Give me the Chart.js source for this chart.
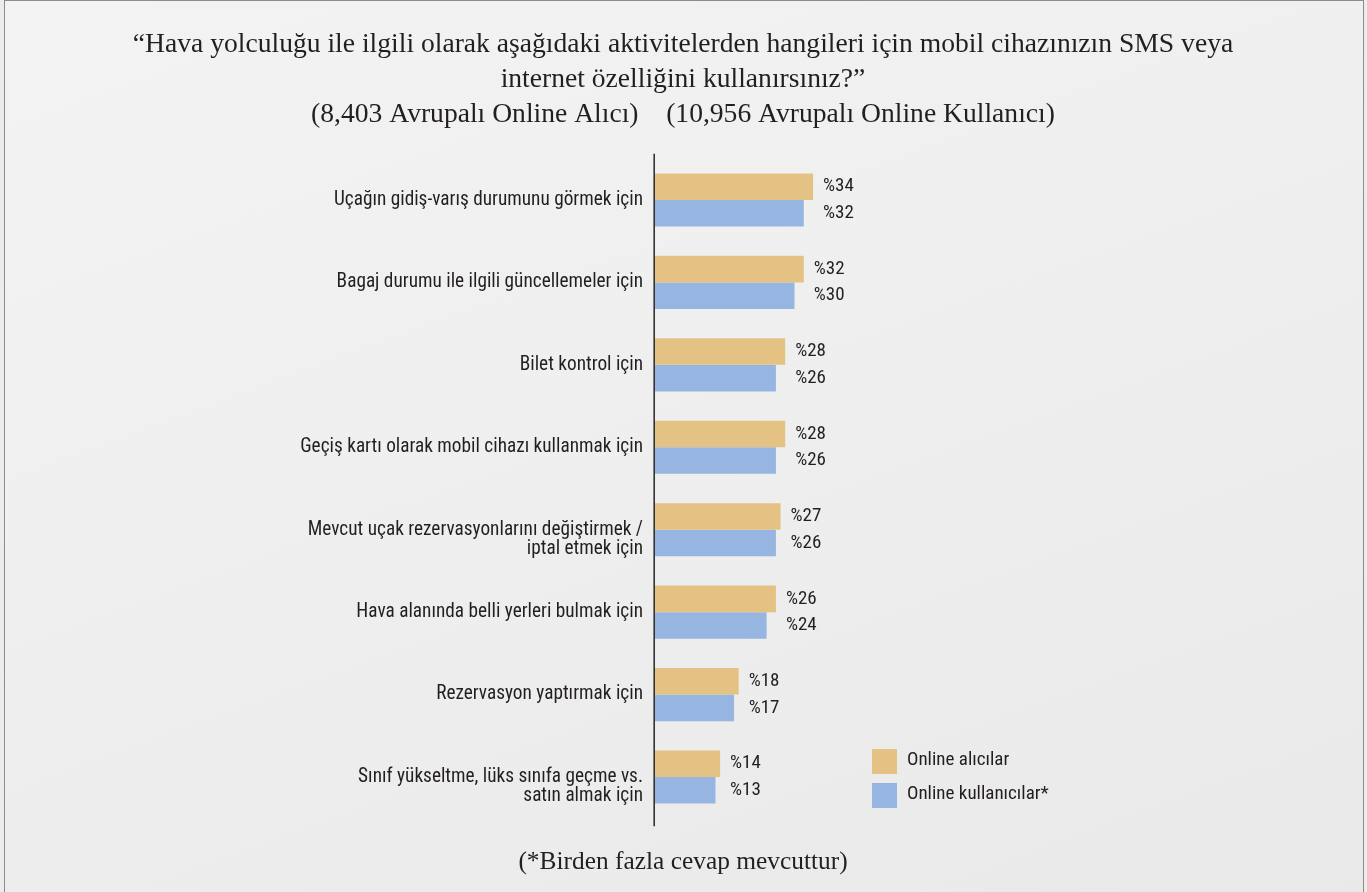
<!DOCTYPE html>
<html lang="tr">
<head>
<meta charset="utf-8">
<script src="https://cdn.jsdelivr.net/npm/chart.js@4/dist/chart.umd.min.js"></script>
<style>
  html, body { margin: 0; padding: 0; background: #ececec; }
  #frame {
    position: absolute; left: 4px; top: 0; width: 1360px; height: 900px;
    border: 1px solid #8c8c8c; box-sizing: border-box;
    background: linear-gradient(160deg, #f3f3f3 0%, #efefef 45%, #e9e9e9 100%);
  }
  #wrap { position: absolute; left: 0; top: 0; width: 1367px; height: 892px; }
</style>
</head>
<body>
<div id="frame"></div>
<div id="wrap"><canvas id="c" width="1367" height="892"></canvas></div>
<script>
const titleLines = [
  '\u201CHava yolculuğu ile ilgili olarak aşağıdaki aktivitelerden hangileri için mobil cihazınızın SMS veya',
  'internet özelliğini kullanırsınız?\u201D',
  '(8,403 Avrupalı Online Alıcı)    (10,956 Avrupalı Online Kullanıcı)'
];
const footnote = '(*Birden fazla cevap mevcuttur)';

const categories = [
  ['Uçağın gidiş-varış durumunu görmek için'],
  ['Bagaj durumu ile ilgili güncellemeler için'],
  ['Bilet kontrol için'],
  ['Geçiş kartı olarak mobil cihazı kullanmak için'],
  ['Mevcut uçak rezervasyonlarını değiştirmek /', 'iptal etmek için'],
  ['Hava alanında belli yerleri bulmak için'],
  ['Rezervasyon yaptırmak için'],
  ['Sınıf yükseltme, lüks sınıfa geçme vs.', 'satın almak için']
];
const seriesNames = ['Online alıcılar', 'Online kullanıcılar*'];
const onlineBuyers = [34, 32, 28, 28, 27, 26, 18, 14];
const onlineUsers = [32, 30, 26, 26, 26, 24, 17, 13];
const seriesColors = ['#e3c283', '#96b5e0'];

const SANS = '"Liberation Sans Narrow", "Roboto Condensed", "Liberation Sans", sans-serif';
const SERIF = '"Liberation Serif", "DejaVu Serif", serif';
const INK = '#231f20';

// Title, footnote, axis line, value labels and legend
const decorations = {
  id: 'decorations',
  beforeDatasetsDraw(chart) {
    const { ctx, chartArea } = chart;
    ctx.save();
    ctx.strokeStyle = '#333';
    ctx.lineWidth = 1.6;
    ctx.beginPath();
    ctx.moveTo(chartArea.left - 0.8, chartArea.top - 5);
    ctx.lineTo(chartArea.left - 0.8, chartArea.bottom + 8);
    ctx.stroke();
    ctx.restore();
  },
  afterDatasetsDraw(chart) {
    const { ctx } = chart;
    ctx.save();
    // title
    ctx.fillStyle = INK;
    ctx.textAlign = 'center';
    ctx.textBaseline = 'middle';
    ctx.font = '27.6px ' + SERIF;
    titleLines.forEach((t, i) => ctx.fillText(t, 683, 45 + i * 35));
    ctx.font = '25.4px ' + SERIF;
    ctx.fillText(footnote, 683, 862);

    // value labels, both aligned after the longer bar of each category
    ctx.font = '19px ' + SANS;
    ctx.textAlign = 'left';
    const m0 = chart.getDatasetMeta(0).data;
    const m1 = chart.getDatasetMeta(1).data;
    m0.forEach((bar, i) => {
      const x = Math.max(bar.x, m1[i].x) + 10;
      ctx.fillText('%' + onlineBuyers[i], x, bar.y);
      ctx.fillText('%' + onlineUsers[i], x, m1[i].y);
    });

    // legend
    chart.data.datasets.forEach((ds, i) => {
      const y = 749 + i * 34;
      ctx.fillStyle = ds.backgroundColor;
      ctx.fillRect(872, y, 25, 25);
      ctx.fillStyle = INK;
      ctx.fillText(ds.label, 907, y + 11);
    });
    ctx.restore();
  }
};

new Chart(document.getElementById('c'), {
  type: 'bar',
  data: {
    labels: categories,
    datasets: [
      { label: seriesNames[0], data: onlineBuyers, backgroundColor: seriesColors[0] },
      { label: seriesNames[1], data: onlineUsers, backgroundColor: seriesColors[1] }
    ]
  },
  options: {
    indexAxis: 'y',
    responsive: false,
    animation: false,
    layout: { padding: { left: 0, right: 479.5, top: 158.8, bottom: 73.8 } },
    datasets: { bar: { categoryPercentage: 0.645, barPercentage: 1, borderWidth: 0 } },
    plugins: { legend: { display: false }, tooltip: { enabled: false }, title: { display: false } },
    scales: {
      x: { display: false, min: 0, max: 50 },
      y: {
        afterFit(scale) { scale.width = 655; },
        grid: { display: false, drawTicks: false },
        border: { display: false },
        ticks: {
          padding: 12,
          color: INK,
          font: { family: SANS, size: 19.3, lineHeight: 1.0 },
          // two-line labels start on the bar centre and run downwards
          callback: (v, i) => categories[i].length > 1 ? [''].concat(categories[i]) : categories[i]
        }
      }
    }
  },
  plugins: [decorations]
});
</script>
</body>
</html>
